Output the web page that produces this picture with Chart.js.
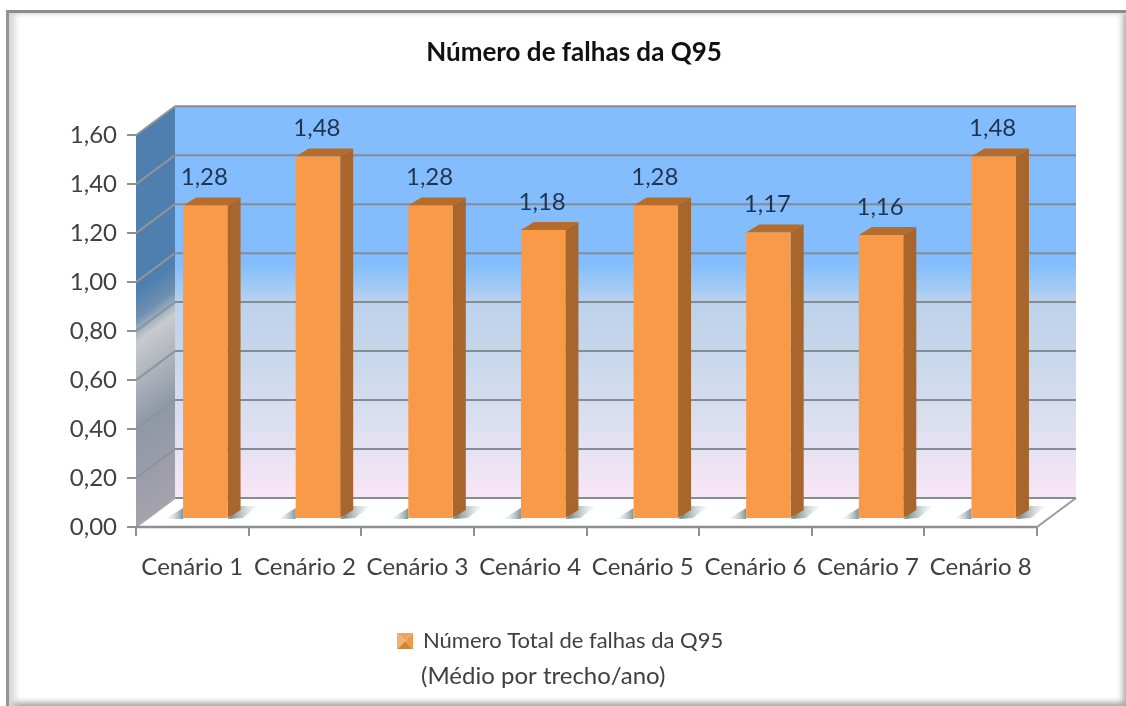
<!DOCTYPE html>
<html>
<head>
<meta charset="utf-8">
<title>Número de falhas da Q95</title>
<script src="https://cdn.jsdelivr.net/npm/chart.js@4"></script>
<style>
    html, body { margin: 0; padding: 0; background: #fff; }
    #wrap { position: relative; width: 1126px; height: 706px; overflow: hidden; }
    #frame {
        position: absolute; left: 6px; top: 10px; right: 0; bottom: 0;
        border-top: 3px solid #8c8c8c; border-left: 3px solid #959595;
        box-shadow: inset 9px 0 6px -3px #d6d6d6, inset 0 4px 4px -3px #e0e0e0, inset -6px 0 6px -3px #a8a8a8, inset 0 -6px 6px -3px #9a9a9a;
    }
    canvas { position: absolute; left: 0; top: 0; filter: blur(0.5px); }
</style>
</head>
<body>
<div id="wrap">
    <div id="frame"></div>
    <canvas id="falhasChart" width="1126" height="706"></canvas>
</div>
<script>
const categories = ['Cenário 1', 'Cenário 2', 'Cenário 3', 'Cenário 4', 'Cenário 5', 'Cenário 6', 'Cenário 7', 'Cenário 8'];
const falhas = [1.28, 1.48, 1.28, 1.18, 1.28, 1.17, 1.16, 1.48];
const titleText = 'Número de falhas da Q95';
const legendLines = ['Número Total de falhas da Q95', '(Médio por trecho/ano)'];

const FONT = 'Lato, "Open Sans", sans-serif';
const DEPTH_X = 39, DEPTH_Y = 29;     // offset of the back wall
const BAR_SHIFT_X = 13, BAR_SHIFT_Y = 8; // bars stand a bit inside the floor
const BAR_DX = 13, BAR_DY = 8;        // depth of each bar

function poly(ctx, pts, fill) {
    ctx.beginPath();
    pts.forEach((p, i) => i ? ctx.lineTo(p[0], p[1]) : ctx.moveTo(p[0], p[1]));
    ctx.closePath();
    ctx.fillStyle = fill;
    ctx.fill();
}

function segment(ctx, x1, y1, x2, y2, color, width) {
    ctx.beginPath();
    ctx.moveTo(x1, y1);
    ctx.lineTo(x2, y2);
    ctx.strokeStyle = color;
    ctx.lineWidth = width;
    ctx.stroke();
}

// small pyramid icon for the legend key
function legendKey() {
    const c = document.createElement('canvas');
    c.width = c.height = 16;
    const g = c.getContext('2d');
    poly(g, [[0, 0], [16, 0], [8, 8]], '#e8a860');
    poly(g, [[16, 0], [16, 16], [8, 8]], '#ee9c4c');
    poly(g, [[0, 16], [16, 16], [8, 8]], '#d08838');
    poly(g, [[0, 0], [0, 16], [8, 8]], '#f4b070');
    return c;
}

// back wall, side wall and floor, placed from the axes
const wallsPlugin = {
    id: 'walls',
    afterLayout(chart) {
        // title and legend do not sit centred on the canvas in this chart
        const t = chart.titleBlock, l = chart.legend;
        t.left = 574 - t.width / 2; t.right = t.left + t.width;
        l.left = 388; l.right = l.left + l.width;
        l.top = 620; l.bottom = l.top + l.height;
    },
    beforeDatasetsDraw(chart) {
        const { ctx, scales: { x, y } } = chart;
        const left = x.left, right = x.right;
        const y0 = y.getPixelForValue(0), yTop = y.getPixelForValue(1.6);
        const bl = left + DEPTH_X, br = right + DEPTH_X;
        ctx.save();

        // floor
        poly(ctx, [[left, y0], [right, y0], [br, y0 - DEPTH_Y], [bl, y0 - DEPTH_Y]], '#ffffff');

        // back wall
        const back = ctx.createLinearGradient(0, yTop - DEPTH_Y, 0, y0 - DEPTH_Y);
        back.addColorStop(0, '#83bdfd');
        back.addColorStop(0.40, '#83bdfd');
        back.addColorStop(0.47, '#a6cbf4');
        back.addColorStop(0.50, '#bdd2ec');
        back.addColorStop(0.62, '#c6d6ea');
        back.addColorStop(0.8, '#dadff0');
        back.addColorStop(1, '#f9e6f6');
        ctx.fillStyle = back;
        ctx.fillRect(bl, yTop - DEPTH_Y, br - bl, y0 - yTop);

        // side wall, its gradient follows the slant of the wall
        const h = y0 - yTop;
        const nLen = h * DEPTH_X / Math.hypot(DEPTH_X, DEPTH_Y);
        const side = ctx.createLinearGradient(bl, yTop - DEPTH_Y,
            bl + nLen * DEPTH_Y / Math.hypot(DEPTH_X, DEPTH_Y),
            yTop - DEPTH_Y + nLen * DEPTH_X / Math.hypot(DEPTH_X, DEPTH_Y));
        side.addColorStop(0, '#4f7fae');
        side.addColorStop(0.40, '#4f7fae');
        side.addColorStop(0.47, '#7090b0');
        side.addColorStop(0.53, '#c8cbce');
        side.addColorStop(0.75, '#8f98a6');
        side.addColorStop(1, '#a5a2ad');
        poly(ctx, [[left, yTop], [bl, yTop - DEPTH_Y], [bl, y0 - DEPTH_Y], [left, y0]], side);

        // gridlines run along the side wall and then the back wall
        y.ticks.forEach(t => {
            const py = y.getPixelForValue(t.value);
            if (t.value > 0) {
                segment(ctx, left, py, bl, py - DEPTH_Y, '#8e9499', 2);
            }
            segment(ctx, bl, py - DEPTH_Y, br, py - DEPTH_Y, '#858d94', 2);
        });
        segment(ctx, left, y0, bl, y0 - DEPTH_Y, '#a8a8ac', 2);
        segment(ctx, right, y0, br, y0 - DEPTH_Y, '#9a9a9e', 2);
        segment(ctx, left, y0, right, y0, '#8f9092', 2.5);

        // shadows the bars throw on the floor
        chart.getDatasetMeta(0).data.forEach(bar => {
            const half = bar.width / 2;
            const r = bar.x + BAR_SHIFT_X + half, l = bar.x + BAR_SHIFT_X - half;
            const fy = y0 - BAR_SHIFT_Y;
            const sh = ctx.createLinearGradient(r + 4, 0, r + 30, 0);
            sh.addColorStop(0, 'rgba(115,135,135,0.95)');
            sh.addColorStop(1, 'rgba(200,210,210,0.1)');
            poly(ctx, [[r, fy], [r + 13, fy - 13], [r + 30, fy - 13], [r + 15, fy - 1]], sh);
            const shl = ctx.createLinearGradient(l, 0, l - 18, 0);
            shl.addColorStop(0, 'rgba(115,135,135,0.9)');
            shl.addColorStop(1, 'rgba(200,210,210,0)');
            poly(ctx, [[l, fy], [l - 18, fy], [l, fy - 11]], shl);
        });
        ctx.restore();
    },
    // each bar is drawn by the library, shifted into the floor, with its top and side added
    beforeDatasetDraw(chart) {
        const ctx = chart.ctx;
        ctx.save();
        ctx.translate(BAR_SHIFT_X, -BAR_SHIFT_Y);
        chart.getDatasetMeta(0).data.forEach(bar => {
            const half = bar.width / 2;
            const r = bar.x + half, l = bar.x - half;
            poly(ctx, [[r, bar.y], [r + BAR_DX, bar.y - BAR_DY], [r + BAR_DX, bar.base - BAR_DY], [r, bar.base]], '#a8652c');
            poly(ctx, [[l, bar.y], [l + BAR_DX, bar.y - BAR_DY], [r + BAR_DX, bar.y - BAR_DY], [r, bar.y]], '#b66d2b');
        });
    },
    afterDatasetDraw(chart) {
        chart.ctx.restore();
    },
    afterDatasetsDraw(chart) {
        const ctx = chart.ctx;
        ctx.save();
        ctx.font = '24px ' + FONT;
        ctx.fillStyle = '#1f3450';
        ctx.textAlign = 'center';
        ctx.textBaseline = 'middle';
        chart.getDatasetMeta(0).data.forEach((bar, i) => {
            const label = falhas[i].toFixed(2).replace('.', ',');
            ctx.fillText(label, bar.x + BAR_SHIFT_X - 1, bar.y - BAR_SHIFT_Y - 28);
        });
        ctx.restore();
    },
    // the legend only lays out one line, the second one goes under it
    afterDraw(chart) {
        const ctx = chart.ctx;
        ctx.save();
        ctx.font = '24px ' + FONT;
        ctx.fillStyle = '#404040';
        ctx.textBaseline = 'middle';
        ctx.fillText(legendLines[1], 421, 676);
        ctx.restore();
    }
};

new Chart(document.getElementById('falhasChart'), {
    type: 'bar',
    data: {
        labels: categories,
        datasets: [{
            label: titleText,
            data: falhas,
            backgroundColor: '#f99a48',
            borderWidth: 0,
            categoryPercentage: 1,
            barPercentage: 0.395
        }]
    },
    plugins: [wallsPlugin],
    options: {
        responsive: false,
        animation: false,
        layout: { padding: { left: 58, right: 89, top: 0, bottom: 82 } },
        scales: {
            x: {
                afterFit(scale) { scale.height = 55; },
                grid: { drawOnChartArea: false, tickLength: 9, color: '#8f9092', lineWidth: 2 },
                border: { display: false },
                ticks: { color: '#404040', font: { family: FONT, size: 24 }, padding: 17, maxRotation: 0, autoSkip: false }
            },
            y: {
                min: 0,
                max: 1.6,
                afterFit(scale) { scale.width = 78; },
                grid: { drawOnChartArea: false, tickLength: 9, color: '#8f9092', lineWidth: 2 },
                border: { display: false },
                ticks: {
                    stepSize: 0.2,
                    color: '#404040',
                    padding: 10,
                    font: { family: FONT, size: 24 },
                    callback: v => v.toFixed(2).replace('.', ',')
                }
            }
        },
        plugins: {
            tooltip: { enabled: false },
            title: {
                display: true,
                text: titleText,
                color: '#111111',
                font: { family: FONT, size: 26, weight: 'bold' },
                padding: { top: 37, bottom: 67 }
            },
            legend: {
                position: 'bottom',
                align: 'start',
                labels: {
                    usePointStyle: true,
                    boxWidth: 14,
                    boxHeight: 14,
                    padding: 10,
                    color: '#404040',
                    font: { family: FONT, size: 22 },
                    generateLabels: () => [{
                        text: legendLines[0],
                        fontColor: '#404040',
                        fillStyle: '#f0a050',
                        strokeStyle: '#f0a050',
                        lineWidth: 0,
                        pointStyle: legendKey(),
                        datasetIndex: 0
                    }]
                }
            }
        }
    }
});
</script>
</body>
</html>
